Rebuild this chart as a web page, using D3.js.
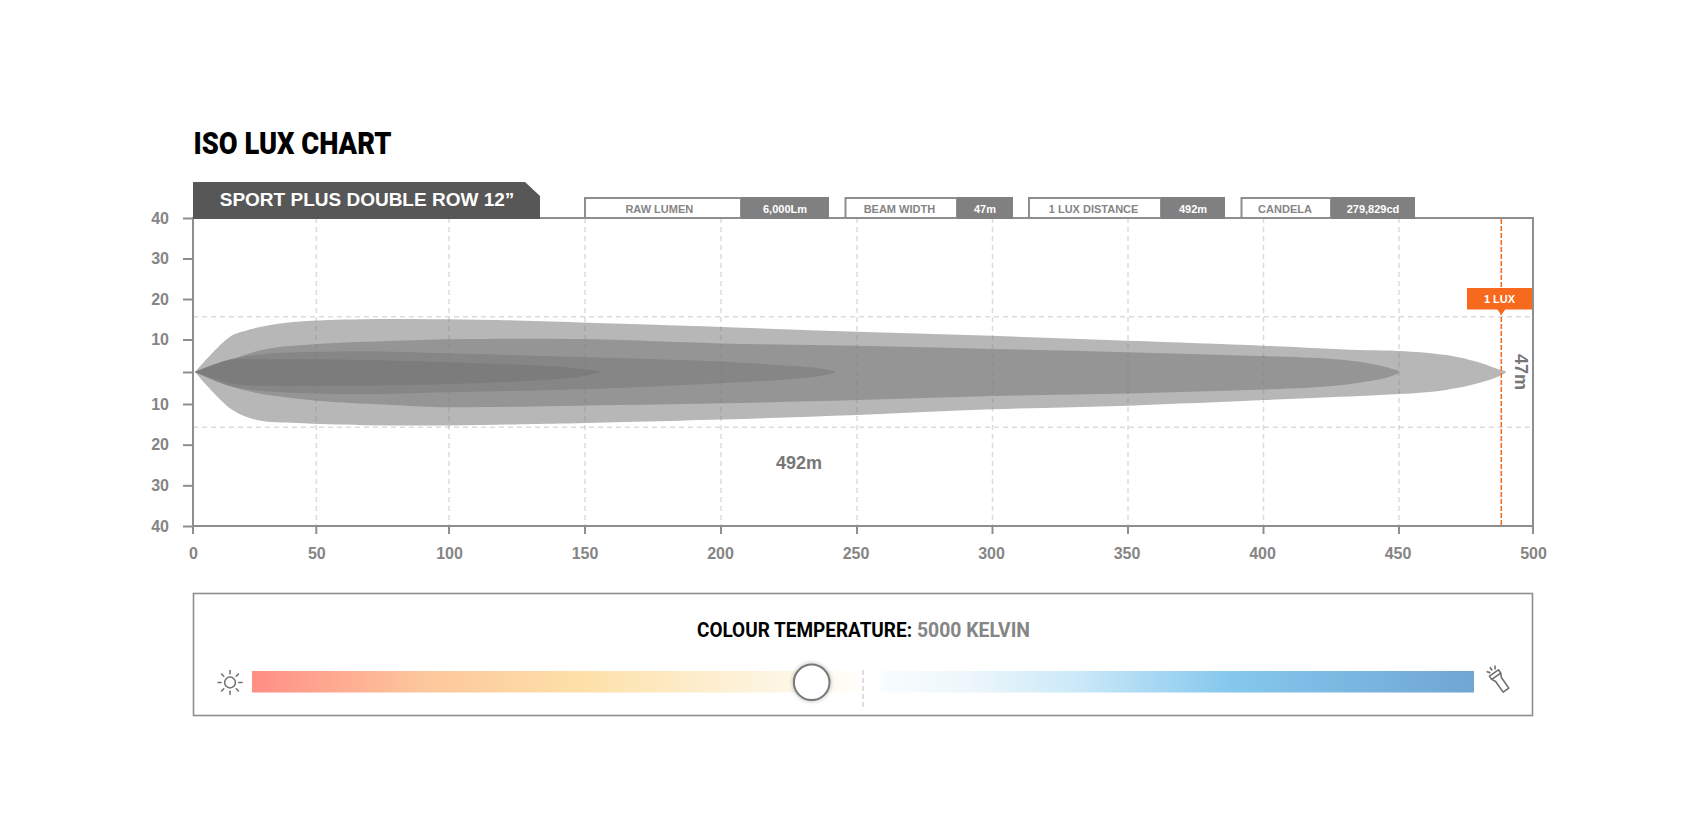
<!DOCTYPE html>
<html>
<head>
<meta charset="utf-8">
<title>ISO Lux Chart</title>
<script src="https://cdn.jsdelivr.net/npm/d3@7"></script>
<style>
    html, body { margin: 0; padding: 0; background: #fff; }
    svg { display: block; }
    text { font-family: "Liberation Sans", Arial, sans-serif; font-weight: 700; }
    .barlow { font-family: Roboto, sans-serif; }
</style>
</head>
<body>
<svg id="chart" width="1688" height="840"></svg>
<script>
// Values: [distance m, half width m]
const outerUpper = [[0.8, 0], [15, 10.7], [22, 12.3], [31.5, 13.6], [42, 14.4], [67.7, 15], [92.9, 15], [117.7, 14.8], [148.3, 14.2], [200.4, 13.1], [250.6, 11.9], [300.4, 10.9], [350.6, 9.6], [400.7, 8.1], [436, 6.8], [450.6, 6.5], [468, 5.2], [480.7, 2.8], [487, 0.9], [490, 0]];
const outerLower = [[487, 1.5], [480.7, 3.3], [468, 5.6], [450.6, 6.9], [436, 7.5], [400.7, 8.75], [350.6, 10.4], [300.4, 11.3], [250.6, 12.7], [200.4, 13.8], [141, 14.8], [117.7, 15.1], [92.9, 15.3], [67.7, 15.2], [42, 14.7], [26.4, 14], [16, 11.5]];
const midUpper = [[0.8, 0], [15, 3.7], [29.3, 7], [50.3, 8.6], [80.5, 9.6], [105.2, 10.1], [148.3, 10.1], [200.4, 8.8], [250.6, 8.1], [300.4, 7.1], [350.6, 6.1], [400.7, 4.9], [426, 4], [438.7, 2.8], [447, 1.2], [450.6, 0]];
const midLower = [[447, 1.5], [438.7, 3], [426, 4.4], [400.7, 5.5], [350.6, 6.7], [300.4, 7.5], [250.6, 8.75], [200.4, 9.8], [141, 10.5], [99.3, 10.8], [80.5, 10.3], [50.3, 9], [26, 6.6], [15, 4.4]];
const innerUpper = [[0.8, 0], [15, 3.9], [28.5, 5.5], [50.3, 6.2], [67.7, 6.4], [100, 5.75], [148.3, 4.6], [200.4, 3.2], [225.8, 1.9], [236.9, 1.1], [242.6, 0]];
const innerLower = [[236.9, 1.25], [225.8, 2.3], [200.4, 3.5], [148.3, 5.4], [100, 6.3], [67.7, 6.9], [50.3, 6.7], [28.5, 5.9], [15, 4.4]];
const coreUpper = [[0.8, 0], [15, 3.7], [28.5, 3.9], [50.3, 3.9], [100, 3], [140, 1.7], [150.2, 0.8], [155.7, 0]];
const coreLower = [[150.2, 1.15], [140, 2.2], [100, 3.75], [50.3, 4.4], [28.5, 4.3], [15, 3.5]];

const distanceTicks = [0, 50, 100, 150, 200, 250, 300, 350, 400, 450, 500];
const widthTicks = [40, 30, 20, 10, 0, -10, -20, -30, -40];
const beamEdges = [15.6, -15.7];
const luxDistance = 488.3;

const statLabels = ['RAW LUMEN', 'BEAM WIDTH', '1 LUX DISTANCE', 'CANDELA'];
const statValues = ['6,000Lm', '47m', '492m', '279,829cd'];

const kelvin = 5000;
const neutralKelvin = 5275;
const rampOffsets = [0, 0.14, 0.27, 0.41, 0.49, 0.5, 0.512, 0.516, 0.585, 0.675, 0.8, 1];
const rampColors = ['#ff8e86', '#fdc79c', '#fde0a8', '#fdf3dc', '#fffdf6', '#ffffff', '#ffffff', '#f8fcfe', '#eef7fc', '#cbe9f8', '#85c8ee', '#6fa6d2'];

(function() {
    const svg = d3.select('#chart');
    const grey = '#8e8e8e';
    const label = '#858585';

    // the axis in the source is not quite even near the origin
    const x = d3.scaleLinear().domain([0, 50, 100, 500]).range([193, 316.3, 449, 1533]);
    // grid lines sit a pixel or two off the labels in the source
    const gridX = d3.scaleLinear().domain([0, 50, 100, 150, 250, 350, 450, 500]).range([193, 316.3, 449, 585, 857, 1128, 1399, 1533]);
    const y = d3.scaleLinear().domain([40, 10, 0, -10, -40]).range([218, 339.5, 372, 404, 526]);

    const defs = svg.append('defs');
    const ramp = defs.append('linearGradient').attr('id', 'ramp');
    ramp.selectAll('stop').data(rampOffsets).enter().append('stop')
        .attr('offset', d => d)
        .attr('stop-color', (d, i) => rampColors[i]);
    const shadow = defs.append('filter').attr('id', 'knob-shadow')
        .attr('x', '-30%').attr('y', '-30%').attr('width', '160%').attr('height', '160%');
    shadow.append('feDropShadow').attr('dx', 0).attr('dy', 0).attr('stdDeviation', 2)
        .attr('flood-color', '#000').attr('flood-opacity', 0.3);

    // Title
    svg.append('text').attr('class', 'barlow')
        .attr('x', 193.5).attr('y', 153.5)
        .attr('font-size', 30.5).attr('fill', '#000')
        .style('font-weight', 900)
        .attr('textLength', 198).attr('lengthAdjust', 'spacingAndGlyphs')
        .text('ISO LUX CHART');

    // Contours, largest first
    const outline = d3.line()
        .x(d => x(d[0]))
        .y(d => y(d[1]))
        .curve(d3.curveCatmullRom.alpha(0.5));
    const shape = (upper, lower) => outline(upper.concat(lower.map(p => [p[0], -p[1]])).concat([upper[0]])) + 'Z';
    const contours = [
        { upper: outerUpper, lower: outerLower, fill: '#b7b7b7' },
        { upper: midUpper, lower: midLower, fill: '#959595' },
        { upper: innerUpper, lower: innerLower, fill: '#868686' },
        { upper: coreUpper, lower: coreLower, fill: '#7c7c7c' }
    ];
    svg.selectAll('.contour').data(contours).enter().append('path')
        .attr('class', 'contour')
        .attr('d', d => shape(d.upper, d.lower))
        .attr('fill', d => d.fill);

    // Grid
    const gridColor = 'rgba(125,125,125,0.27)';
    svg.selectAll('.vgrid').data(distanceTicks.slice(1, -1)).enter().append('line')
        .attr('class', 'vgrid')
        .attr('x1', d => gridX(d)).attr('x2', d => gridX(d))
        .attr('y1', 218).attr('y2', 526)
        .attr('stroke', gridColor).attr('stroke-width', 1.5).attr('stroke-dasharray', '5,4');
    svg.selectAll('.hgrid').data(beamEdges).enter().append('line')
        .attr('class', 'hgrid')
        .attr('x1', 193).attr('x2', 1533)
        .attr('y1', d => y(d)).attr('y2', d => y(d))
        .attr('stroke', gridColor).attr('stroke-width', 1.5).attr('stroke-dasharray', '5,4');

    // Axes
    const xAxis = d3.axisBottom(x).tickValues(distanceTicks).tickSize(0).tickPadding(22).tickFormat(d3.format('d'));
    const yAxis = d3.axisLeft(y).tickValues(widthTicks).tickSize(10).tickPadding(14)
        .tickFormat(d => d === 0 ? '' : Math.abs(d));
    const gx = svg.append('g').attr('transform', 'translate(0,526)').call(xAxis);
    const gy = svg.append('g').attr('transform', 'translate(193,0)').call(yAxis);
    [gx, gy].forEach(g => {
        g.select('.domain').remove();
        g.selectAll('line').attr('stroke', grey).attr('stroke-width', 2);
        g.selectAll('text')
            .attr('fill', label)
            .attr('font-size', 16)
            .attr('font-family', '"Liberation Sans", Arial, sans-serif');
    });
    svg.selectAll('.xtick').data(distanceTicks).enter().append('line')
        .attr('class', 'xtick')
        .attr('x1', d => gridX(d)).attr('x2', d => gridX(d))
        .attr('y1', 526).attr('y2', 534)
        .attr('stroke', grey).attr('stroke-width', 2);
    svg.append('rect')
        .attr('x', 193).attr('y', 218).attr('width', 1340).attr('height', 308)
        .attr('fill', 'none').attr('stroke', grey).attr('stroke-width', 2);

    // Product tab
    svg.append('path')
        .attr('d', 'M193,182H525L540,196V219H193Z')
        .attr('fill', '#575757');
    svg.append('text')
        .attr('x', 367).attr('y', 206)
        .attr('text-anchor', 'middle')
        .attr('font-size', 19).attr('fill', '#fff')
        .text('SPORT PLUS DOUBLE ROW 12”');

    // Stat boxes
    const statLeft = [585, 845.5, 1029, 1241.5];
    const statSplit = [741, 957, 1161, 1331];
    const statRight = [829, 1013, 1225, 1415];
    const statLabelX = [659.3, 899.4, 1093.6, 1285];
    const stats = svg.selectAll('.stat').data(statLabels).enter().append('g').attr('class', 'stat');
    stats.append('rect')
        .attr('x', (d, i) => statLeft[i]).attr('y', 198)
        .attr('width', (d, i) => statSplit[i] - statLeft[i]).attr('height', 20)
        .attr('fill', '#fff').attr('stroke', grey).attr('stroke-width', 2);
    stats.append('rect')
        .attr('x', (d, i) => statSplit[i]).attr('y', 197)
        .attr('width', (d, i) => statRight[i] - statSplit[i]).attr('height', 22)
        .attr('fill', '#808080');
    stats.append('text')
        .attr('x', (d, i) => statLabelX[i]).attr('y', 212.5)
        .attr('text-anchor', 'middle').attr('font-size', 11).attr('fill', label)
        .text(d => d);
    stats.append('text')
        .attr('x', (d, i) => (statSplit[i] + statRight[i]) / 2).attr('y', 212.5)
        .attr('text-anchor', 'middle').attr('font-size', 11).attr('fill', '#fff')
        .text((d, i) => statValues[i]);

    // 1 lux marker
    const lux = '#f7691d';
    const luxX = x(luxDistance);
    svg.append('line')
        .attr('x1', luxX).attr('x2', luxX).attr('y1', 219).attr('y2', 526)
        .attr('stroke', lux).attr('stroke-width', 1.5).attr('stroke-dasharray', '5,2');
    svg.append('path')
        .attr('d', 'M1467,288H1532V309.5H' + (luxX + 4) + 'L' + luxX + ',315L' + (luxX - 4) + ',309.5H1467Z')
        .attr('fill', lux);
    svg.append('text')
        .attr('x', 1499.5).attr('y', 302.5)
        .attr('text-anchor', 'middle').attr('font-size', 11).attr('fill', '#fff')
        .text('1 LUX');

    svg.append('text')
        .attr('transform', 'translate(1515,372) rotate(90)')
        .attr('text-anchor', 'middle').attr('font-size', 18).attr('fill', '#777')
        .text(statValues[1]);
    svg.append('text')
        .attr('x', 799).attr('y', 469)
        .attr('text-anchor', 'middle').attr('font-size', 18).attr('fill', '#777')
        .text(statValues[2]);

    // Colour temperature panel
    const k = d3.scaleLinear().domain([2000, 8550]).range([252, 1474]);
    svg.append('rect')
        .attr('x', 193.5).attr('y', 593.5).attr('width', 1339).attr('height', 122)
        .attr('fill', '#fff').attr('stroke', grey).attr('stroke-width', 1.6);
    svg.append('text').attr('class', 'barlow')
        .attr('x', 697).attr('y', 637)
        .attr('font-size', 20).attr('fill', '#000')
        .attr('textLength', 215).attr('lengthAdjust', 'spacingAndGlyphs')
        .text('COLOUR TEMPERATURE:');
    svg.append('text').attr('class', 'barlow')
        .attr('x', 917).attr('y', 637)
        .attr('font-size', 20).attr('fill', label)
        .attr('textLength', 113).attr('lengthAdjust', 'spacingAndGlyphs')
        .text(kelvin + ' KELVIN');
    svg.append('rect')
        .attr('x', k.range()[0]).attr('y', 671)
        .attr('width', k.range()[1] - k.range()[0]).attr('height', 21.5)
        .attr('fill', 'url(#ramp)');
    svg.append('line')
        .attr('x1', k(neutralKelvin)).attr('x2', k(neutralKelvin))
        .attr('y1', 670).attr('y2', 710)
        .attr('stroke', '#c8c8c8').attr('stroke-width', 1.2).attr('stroke-dasharray', '5,3');
    svg.append('circle')
        .attr('cx', k(kelvin)).attr('cy', 682.3).attr('r', 17.8)
        .attr('fill', '#fff').attr('stroke', '#777').attr('stroke-width', 2)
        .attr('filter', 'url(#knob-shadow)');

    // Sun icon
    const sun = svg.append('g').attr('transform', 'translate(230,682.5)')
        .attr('fill', 'none').attr('stroke', '#6f6f6f').attr('stroke-width', 1.5).attr('stroke-linecap', 'round');
    sun.append('circle').attr('r', 5.4);
    sun.selectAll('line').data(d3.range(8)).enter().append('line')
        .attr('y1', -8.8).attr('y2', -12)
        .attr('transform', d => 'rotate(' + d * 45 + ')');

    // Torch icon
    const torch = svg.append('g').attr('transform', 'translate(1498.5,679.5) rotate(-35)')
        .attr('fill', 'none').attr('stroke', '#6f6f6f').attr('stroke-width', 1.6).attr('stroke-linejoin', 'round');
    torch.append('path').attr('d', 'M-5.5,-8H5.5V-4L3.5,0V13H-3.5V0L-5.5,-4Z');
    torch.append('line').attr('x1', -5.5).attr('x2', 5.5).attr('y1', -4).attr('y2', -4);
    torch.selectAll('.ray').data([-35, 0, 35]).enter().append('line')
        .attr('class', 'ray')
        .attr('y1', -11).attr('y2', -15)
        .attr('transform', d => 'rotate(' + d + ' 0 -6)');
})();
</script>
</body>
</html>
